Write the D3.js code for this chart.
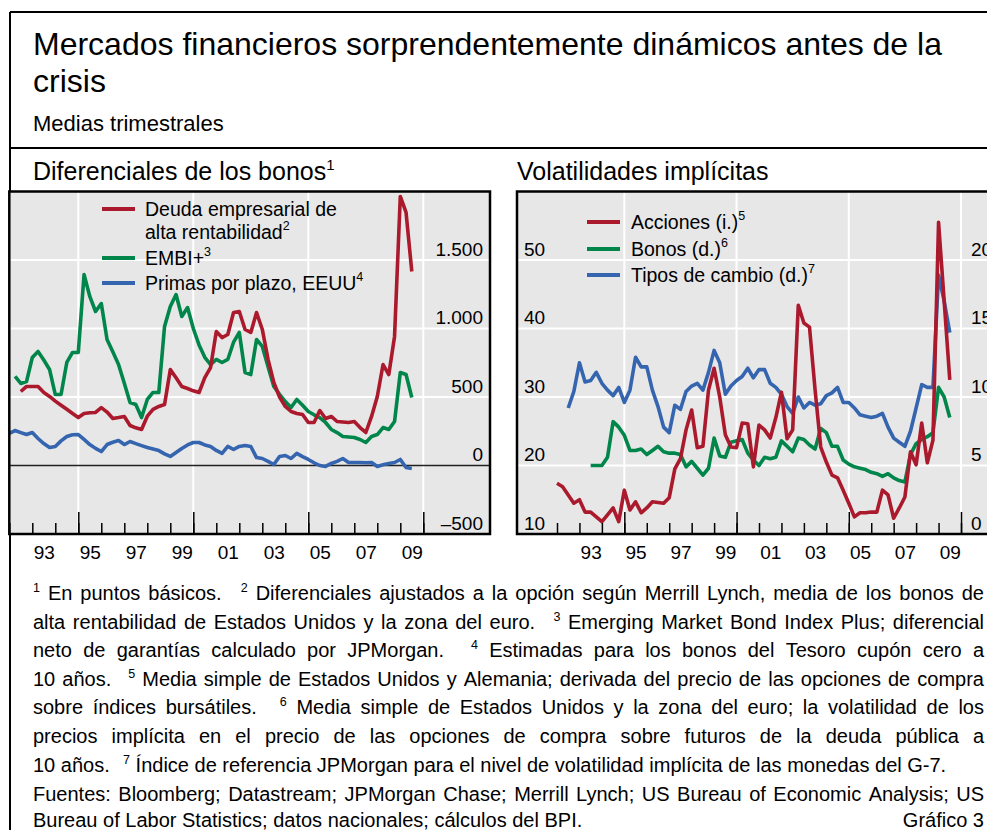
<!DOCTYPE html>
<html>
<head>
<meta charset="utf-8">
<script src="https://cdn.jsdelivr.net/npm/d3@7"></script>
<style>
  body { margin: 0; background: #fff; }
  text { font-family: "Liberation Sans", Arial, sans-serif; fill: #000; }
</style>
</head>
<body>
<script>
// ---- data (quarterly averages, first value = start quarter) ----
var hyStart = 1992.5;   // Deuda empresarial de alta rentabilidad
var hyValues = [540, 577, 577, 577, 533, 504, 470, 440, 410, 380, 350, 380, 385, 387, 423, 390, 343, 350, 358, 292,
  275, 263, 360, 410, 431, 445, 700, 640, 577, 562, 545, 533, 642, 715, 978, 934, 956, 1117, 1124, 993,
  971, 1117, 993, 774, 606, 500, 431, 394, 380, 372, 314, 314, 401, 343, 358, 321, 318, 314, 321, 277,
  241, 358, 504, 737, 664, 942, 1964, 1847, 1416];
var embiStart = 1992.25; // EMBI+
var embiValues = [650, 599, 613, 788, 832, 770, 701, 518, 518, 752, 825, 825, 1394, 1234, 1124, 1182, 920, 830, 737, 600,
  460, 445, 350, 482, 533, 533, 1015, 1161, 1248, 1088, 1153, 1000, 880, 790, 737, 774, 752, 774, 900, 971,
  679, 664, 920, 869, 720, 577, 520, 467, 423, 482, 440, 394, 370, 350, 314, 263, 240, 212, 208, 204,
  190, 168, 212, 226, 277, 263, 321, 679, 664, 496];
var termStart = 1992;    // Primas por plazo, EEUU
var termValues = [234, 255, 240, 226, 241, 197, 160, 131, 139, 180, 212, 225, 226, 190, 153, 125, 102, 153, 170, 182,
  153, 175, 160, 145, 131, 120, 109, 85, 66, 95, 124, 150, 168, 168, 150, 139, 110, 88, 139, 117,
  139, 146, 139, 58, 51, 30, 7, 66, 73, 51, 88, 65, 44, 20, 0, -7, 15, 30, 51, 22,
  22, 22, 20, 22, -7, 5, 15, 22, 44, -15, -22];

var equityStart = 1992;  // Acciones (i.)
var equityValues = [17.4, 16.9, 15.7, 14.5, 15.0, 13.2, 13.2, 12.5, 11.8, 12.8, 13.8, 11.8, 16.4, 13.5, 14.7, 13.1, 13.8, 14.7, 14.6, 14.5,
  15.3, 19.5, 21.0, 25.2, 28.1, 22.6, 22.8, 31.0, 34.2, 30.0, 24.5, 22.7, 22.6, 26.2, 26.1, 19.8, 25.9, 25.2, 24.0, 27.0,
  30.7, 23.9, 25.2, 43.4, 40.8, 40.2, 31.0, 22.7, 20.5, 18.6, 18.2, 16.4, 14.5, 12.5, 13.1, 13.1, 13.2, 13.2, 16.4, 15.7,
  12.3, 13.8, 15.4, 22.0, 20.1, 26.2, 20.4, 23.7, 55.5, 44.0, 32.5];
var bondStart = 1993.5;  // Bonos (d.)
var bondValues = [5.0, 5.0, 5.0, 5.6, 8.2, 7.8, 7.2, 6.1, 6.1, 6.2, 5.8, 6.1, 6.4, 6.0, 5.9, 5.9, 5.8, 4.9, 5.3, 4.8,
  4.3, 4.8, 7.0, 5.7, 5.6, 6.7, 6.8, 6.9, 5.9, 5.4, 5.0, 5.6, 5.5, 5.6, 6.8, 6.4, 6.0, 7.0, 6.9, 6.5,
  6.2, 7.7, 7.4, 6.4, 6.4, 5.4, 5.1, 4.9, 4.8, 4.7, 4.5, 4.4, 4.2, 4.4, 4.1, 3.9, 3.8, 5.8, 6.6, 6.9,
  7.1, 7.4, 10.7, 10.0, 8.5];
var fxStart = 1992.5;    // Tipos de cambio (d.)
var fxValues = [9.2, 10.4, 12.5, 11.1, 11.2, 11.8, 11.0, 10.5, 10.1, 10.7, 9.6, 10.5, 12.9, 12.2, 12.2, 10.5, 9.3, 7.8, 7.4, 9.4,
  9.1, 10.4, 10.8, 11.0, 10.5, 11.8, 13.4, 12.5, 10.2, 10.8, 11.2, 11.5, 12.1, 11.4, 12.0, 12.0, 11.0, 10.7, 10.2, 9.3,
  8.8, 10.0, 9.2, 9.6, 9.4, 9.5, 10.1, 10.3, 10.7, 9.6, 9.6, 9.2, 8.7, 8.6, 8.5, 8.6, 8.8, 7.8, 7.0, 6.7,
  6.4, 7.5, 9.2, 10.9, 10.7, 10.7, 18.9, 17.0, 14.7];

var yearTicks = d3.range(1992, 2011);
var majorYears = [1995, 2000, 2005, 2010];
var yearLabels = [1993, 1995, 1997, 1999, 2001, 2003, 2005, 2007, 2009];
var spreadTicks = [-500, 0, 500, 1000, 1500];
var equityTicks = [10, 20, 30, 40, 50];
var rightTicks = [0, 5, 10, 15, 20];

var RED = "#ab192d", GREEN = "#00864a", BLUE = "#3665b0", BG = "#e7e7e7";

var fmt = d3.formatLocale({decimal: ",", thousands: ".", grouping: [3], currency: ["", ""], minus: "\u2013"}).format(",");

function series(start, values) {
  return values.map(function(v, i) { return {t: start + i / 4, v: v}; });
}

var width = 987, height = 830;
var svg = d3.select("body").append("svg")
  .attr("width", width)
  .attr("height", height);
var defs = svg.append("defs");

// frame
svg.append("line").attr("x1", 10).attr("y1", 12).attr("x2", 10).attr("y2", height).attr("stroke", "#000").attr("stroke-width", 2);
svg.append("line").attr("x1", 10).attr("y1", 12).attr("x2", width).attr("y2", 12).attr("stroke", "#000").attr("stroke-width", 2);
svg.append("line").attr("x1", 10).attr("y1", 148).attr("x2", width).attr("y2", 148).attr("stroke", "#000").attr("stroke-width", 2);

// titles
svg.append("text").attr("x", 33).attr("y", 55).attr("font-size", 32)
  .text("Mercados financieros sorprendentemente dinámicos antes de la");
svg.append("text").attr("x", 33).attr("y", 92).attr("font-size", 32).text("crisis");
svg.append("text").attr("x", 33).attr("y", 131).attr("font-size", 22).text("Medias trimestrales");

var t1 = svg.append("text").attr("x", 33).attr("y", 180).attr("font-size", 25).text("Diferenciales de los bonos");
t1.append("tspan").attr("dy", -10).attr("font-size", 15).text("1");
svg.append("text").attr("x", 517).attr("y", 180).attr("font-size", 25).text("Volatilidades implícitas");

var TOP = 191.5, BOTTOM = 534;

function panel(id, x0, x1, xScale) {
  var g = svg.append("g");
  g.append("rect").attr("x", x0).attr("y", TOP).attr("width", x1 - x0).attr("height", BOTTOM - TOP).attr("fill", BG);
  defs.append("clipPath").attr("id", id).append("rect")
    .attr("x", x0).attr("y", TOP).attr("width", x1 - x0).attr("height", BOTTOM - TOP);
  g.selectAll(".vgrid").data(majorYears).enter().append("line")
    .attr("x1", xScale).attr("x2", xScale).attr("y1", TOP).attr("y2", BOTTOM)
    .attr("stroke", "#fff").attr("stroke-width", 2);
  return g;
}

function hgrid(g, vals, yScale, x0, x1) {
  g.selectAll(null).data(vals).enter().append("line")
    .attr("x1", x0).attr("x2", x1).attr("y1", yScale).attr("y2", yScale)
    .attr("stroke", "#fff").attr("stroke-width", 2);
}

function bottomAxis(g, xScale) {
  g.append("g").attr("transform", "translate(0," + BOTTOM + ")")
    .call(d3.axisBottom(xScale).tickValues(yearTicks).tickSize(-11).tickFormat(""))
    .call(function(a) { a.select(".domain").remove(); a.selectAll("line").attr("stroke-width", 1.5); });
  g.append("g").attr("transform", "translate(0," + BOTTOM + ")")
    .call(d3.axisBottom(xScale).tickValues(majorYears).tickSize(-22).tickFormat(""))
    .call(function(a) { a.select(".domain").remove(); a.selectAll("line").attr("stroke-width", 1.5); });
  g.append("g").attr("transform", "translate(0,559)")
    .call(d3.axisBottom(xScale).tickValues(yearLabels.map(function(y) { return y + 0.5; })).tickSize(0)
      .tickFormat(function(d) { return String(Math.floor(d) % 100).padStart(2, "0"); }))
    .call(function(a) {
      a.select(".domain").remove();
      a.selectAll("text").attr("y", 0).attr("dy", 0).attr("font-size", 19);
    });
}

function valueAxis(g, axis, x) {
  g.append("g").attr("transform", "translate(" + x + ",0)")
    .call(axis.tickSize(0).tickPadding(0))
    .call(function(a) {
      a.select(".domain").remove();
      a.selectAll("text").attr("dy", -5).attr("font-size", 19);
    });
}

function drawLine(g, clipId, data, x, y, color) {
  g.append("path").datum(data)
    .attr("clip-path", "url(#" + clipId + ")")
    .attr("fill", "none").attr("stroke", color).attr("stroke-width", 3.6)
    .attr("stroke-linejoin", "round").attr("stroke-linecap", "butt")
    .attr("d", d3.line().x(function(d) { return x(d.t); }).y(function(d) { return y(d.v); }));
}

function legend(g, items, lx0, lx1, tx) {
  items.forEach(function(it) {
    g.append("line").attr("x1", lx0).attr("x2", lx1).attr("y1", it.ly).attr("y2", it.ly)
      .attr("stroke", it.color).attr("stroke-width", 4);
    it.lines.forEach(function(s, i) {
      var t = g.append("text").attr("x", tx).attr("y", it.ty + i * 23).attr("font-size", 19.5).text(s);
      if (it.sup && i === it.lines.length - 1) t.append("tspan").attr("dy", -9).attr("font-size", 12.5).text(it.sup);
    });
  });
}

// ---- left panel: Diferenciales de los bonos ----
var xL = d3.scaleLinear().domain([1992, 2012.9]).range([9.3, 490]);
var yL = d3.scaleLinear().domain([-500, 2000]).range([BOTTOM, TOP]);
var gL = panel("clipL", 9.3, 490, xL);
hgrid(gL, [500, 1000, 1500], yL, 9.3, 490);
gL.append("line").attr("x1", 9.3).attr("x2", 490).attr("y1", yL(0)).attr("y2", yL(0))
  .attr("stroke", "#222").attr("stroke-width", 1.5);
drawLine(gL, "clipL", series(termStart, termValues), xL, yL, BLUE);
drawLine(gL, "clipL", series(embiStart, embiValues), xL, yL, GREEN);
drawLine(gL, "clipL", series(hyStart, hyValues), xL, yL, RED);
bottomAxis(gL, xL);
valueAxis(gL, d3.axisLeft(yL).tickValues(spreadTicks).tickFormat(fmt), 483);
legend(gL, [
  {color: RED, ly: 209, ty: 216, lines: ["Deuda empresarial de", "alta rentabilidad"], sup: "2"},
  {color: GREEN, ly: 258, ty: 265, lines: ["EMBI+"], sup: "3"},
  {color: BLUE, ly: 283, ty: 290, lines: ["Primas por plazo, EEUU"], sup: "4"}
], 102, 135, 145);
gL.append("rect").attr("x", 9.3).attr("y", TOP).attr("width", 490 - 9.3).attr("height", BOTTOM - TOP)
  .attr("fill", "none").attr("stroke", "#000").attr("stroke-width", 2.5);

// ---- right panel: Volatilidades implícitas ----
var xR = d3.scaleLinear().domain([1992, 2010]).range([557, 961]);
var yRL = d3.scaleLinear().domain([10, 60]).range([BOTTOM, TOP]);
var yRR = d3.scaleLinear().domain([0, 25]).range([BOTTOM, TOP]);
var gR = panel("clipR", 517, 1010, xR);
hgrid(gR, [20, 30, 40, 50], yRL, 517, 1010);
drawLine(gR, "clipR", series(fxStart, fxValues), xR, yRR, BLUE);
drawLine(gR, "clipR", series(bondStart, bondValues), xR, yRR, GREEN);
drawLine(gR, "clipR", series(equityStart, equityValues), xR, yRL, RED);
bottomAxis(gR, xR);
valueAxis(gR, d3.axisRight(yRL).tickValues(equityTicks), 524);
valueAxis(gR, d3.axisRight(yRR).tickValues(rightTicks), 971);
legend(gR, [
  {color: RED, ly: 222, ty: 229, lines: ["Acciones (i.)"], sup: "5"},
  {color: GREEN, ly: 249, ty: 256, lines: ["Bonos (d.)"], sup: "6"},
  {color: BLUE, ly: 275, ty: 282, lines: ["Tipos de cambio (d.)"], sup: "7"}
], 587, 620, 631);
gR.append("rect").attr("x", 517).attr("y", TOP).attr("width", 1010 - 517).attr("height", BOTTOM - TOP)
  .attr("fill", "none").attr("stroke", "#000").attr("stroke-width", 2.5);

// ---- footnotes ----
var notes = [
  "{1} En puntos básicos. {2} Diferenciales ajustados a la opción según Merrill Lynch, media de los bonos de",
  "alta rentabilidad de Estados Unidos y la zona del euro. {3} Emerging Market Bond Index Plus; diferencial",
  "neto de garantías calculado por JPMorgan. {4} Estimadas para los bonos del Tesoro cupón cero a",
  "10 años. {5} Media simple de Estados Unidos y Alemania; derivada del precio de las opciones de compra",
  "sobre índices bursátiles. {6} Media simple de Estados Unidos y la zona del euro; la volatilidad de los",
  "precios implícita en el precio de las opciones de compra sobre futuros de la deuda pública a",
  "10 años. {7} Índice de referencia JPMorgan para el nivel de volatilidad implícita de las monedas del G-7."
];
var sources = [
  "Fuentes: Bloomberg; Datastream; JPMorgan Chase; Merrill Lynch; US Bureau of Economic Analysis; US",
  "Bureau of Labor Statistics; datos nacionales; cálculos del BPI."
];

var NOTE_SIZE = 20;
function textLine(str, y, justify) {
  var g = svg.append("g");
  var toks = str.split(" ").map(function(s) {
    var m = s.match(/^\{(\d)\}$/);
    return m ? {txt: m[1], sup: true} : {txt: s, sup: false};
  });
  toks.forEach(function(t) {
    t.el = g.append("text").attr("y", t.sup ? y - 8 : y).attr("font-size", t.sup ? 12.5 : NOTE_SIZE).text(t.txt);
    t.w = t.el.node().getComputedTextLength();
  });
  var weights = toks.slice(1).map(function(t) { return t.sup ? 2.4 : 1; });
  var unit = justify ? (984 - 33 - d3.sum(toks, function(t) { return t.w; })) / d3.sum(weights) : NOTE_SIZE * 0.278;
  var x = 33;
  toks.forEach(function(t, i) {
    if (i > 0) x += weights[i - 1] * unit;
    t.el.attr("x", x);
    x += t.w;
  });
}

notes.forEach(function(s, i) { textLine(s, 600 + i * 28.6, i < notes.length - 1); });
textLine(sources[0], 801, true);
textLine(sources[1], 827, false);
svg.append("text").attr("x", 984).attr("y", 827).attr("text-anchor", "end").attr("font-size", NOTE_SIZE).text("Gráfico 3");
</script>
</body>
</html>
